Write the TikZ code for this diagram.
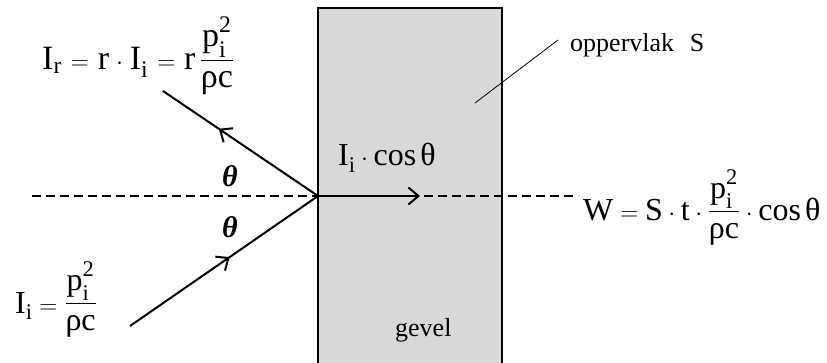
\documentclass[tikz,border=0pt]{standalone}
\usepackage{amsmath}
\usepackage{fontspec}
\setmainfont{Liberation Serif}
\usetikzlibrary{decorations.markings,arrows.meta}
\newcommand{\tr}[1]{\text{#1}}
\newcommand{\fr}[2]{\raisebox{3pt}{$\displaystyle\dfrac{#1}{\raisebox{-3pt}{$\displaystyle #2$}}$}}
\newcommand{\ppi}{\tr{p}_{\tr{i}}^{\tr{\raisebox{5pt}{2}}}}
\newcommand{\weq}{\mkern1.5mu=\mkern1.5mu}
\newcommand{\wdot}{\mkern1mu\cdot\mkern1mu}
\definecolor{wallgray}{HTML}{D9D9D9}
\begin{document}
\begin{tikzpicture}[x=1pt,y=-1pt,
  ray/.style={line width=2pt},
  tip/.style={-{Straight Barb[length=10pt,width=17pt,line width=2pt]}},
  eq/.style={font=\fontsize{32}{38}\selectfont, inner sep=0pt},
  eqbig/.style={font=\fontsize{34}{40}\selectfont, inner sep=0pt},
  lbl/.style={font=\fontsize{26}{30}\selectfont, inner sep=0pt},
  ang/.style={font=\fontsize{30}{34}\selectfont\bfseries\itshape, inner sep=0pt},
  midarrow/.style={postaction={decorate}, decoration={markings,
      mark=at position #1 with {\arrow{Straight Barb[length=10pt,width=17pt,line width=2pt]}}}}
]
\useasboundingbox (0,0) rectangle (827,363);
% wall
\coordinate (W1) at (318,363);
\coordinate (W2) at (318,8);
\coordinate (W3) at (502,8);
\coordinate (W4) at (502,363);
\fill[wallgray] (W1) -- (W2) -- (W3) -- (W4) -- cycle;
\draw[line width=1.4pt] (W1) -- (W2) -- (W3) -- (W4);
% points
\coordinate (P) at (318,196);
\coordinate (R) at (163,91);
\coordinate (S) at (130,326);
\coordinate (T) at (420,196);
\coordinate (DL) at (32,196);
\coordinate (DR) at (578,196);
\coordinate (L1) at (475,103);
\coordinate (L2) at (558,40);
% normal (dashed)
\draw[ray, dash pattern=on 9pt off 5pt] (DL) -- (DR);
% rays
\draw[ray, midarrow=0.64] (P) -- (R);
\draw[ray, midarrow=0.53] (S) -- (P);
\draw[ray, tip] (P) -- (T);
% leader
\draw[line width=0.8pt] (L1) -- (L2);
% labels
\node[eqbig, anchor=base west] (fr) at (42,70)
  {$\tr{I}_\tr{r} \weq \tr{r}\wdot \tr{I}_\tr{i} \weq \tr{r}\,\fr{\ppi}{\tr{ρc}}$};
\node[eq, anchor=base west] (fi) at (15,313)
  {$\tr{I}_\tr{i} = \fr{\ppi}{\tr{ρc}}$};
\node[eq, anchor=base west] (fc) at (338,166)
  {$\tr{I}_\tr{i}\cdot\tr{cos}\,\tr{θ}$};
\node[eq, anchor=base west] (fw) at (583,221)
  {$\tr{W} = \tr{S}\cdot\tr{t}\cdot\fr{\ppi}{\tr{ρc}}\cdot\tr{cos}\,\tr{θ}$};
\node[ang] (t1) at (230,176) {θ};
\node[ang] (t2) at (230,227) {θ};
\node[lbl, anchor=base west] (op) at (570,52) {oppervlak\hspace{0.6em}S};
\node[lbl, anchor=base west] (gv) at (395,336) {gevel};
\end{tikzpicture}
\end{document}
